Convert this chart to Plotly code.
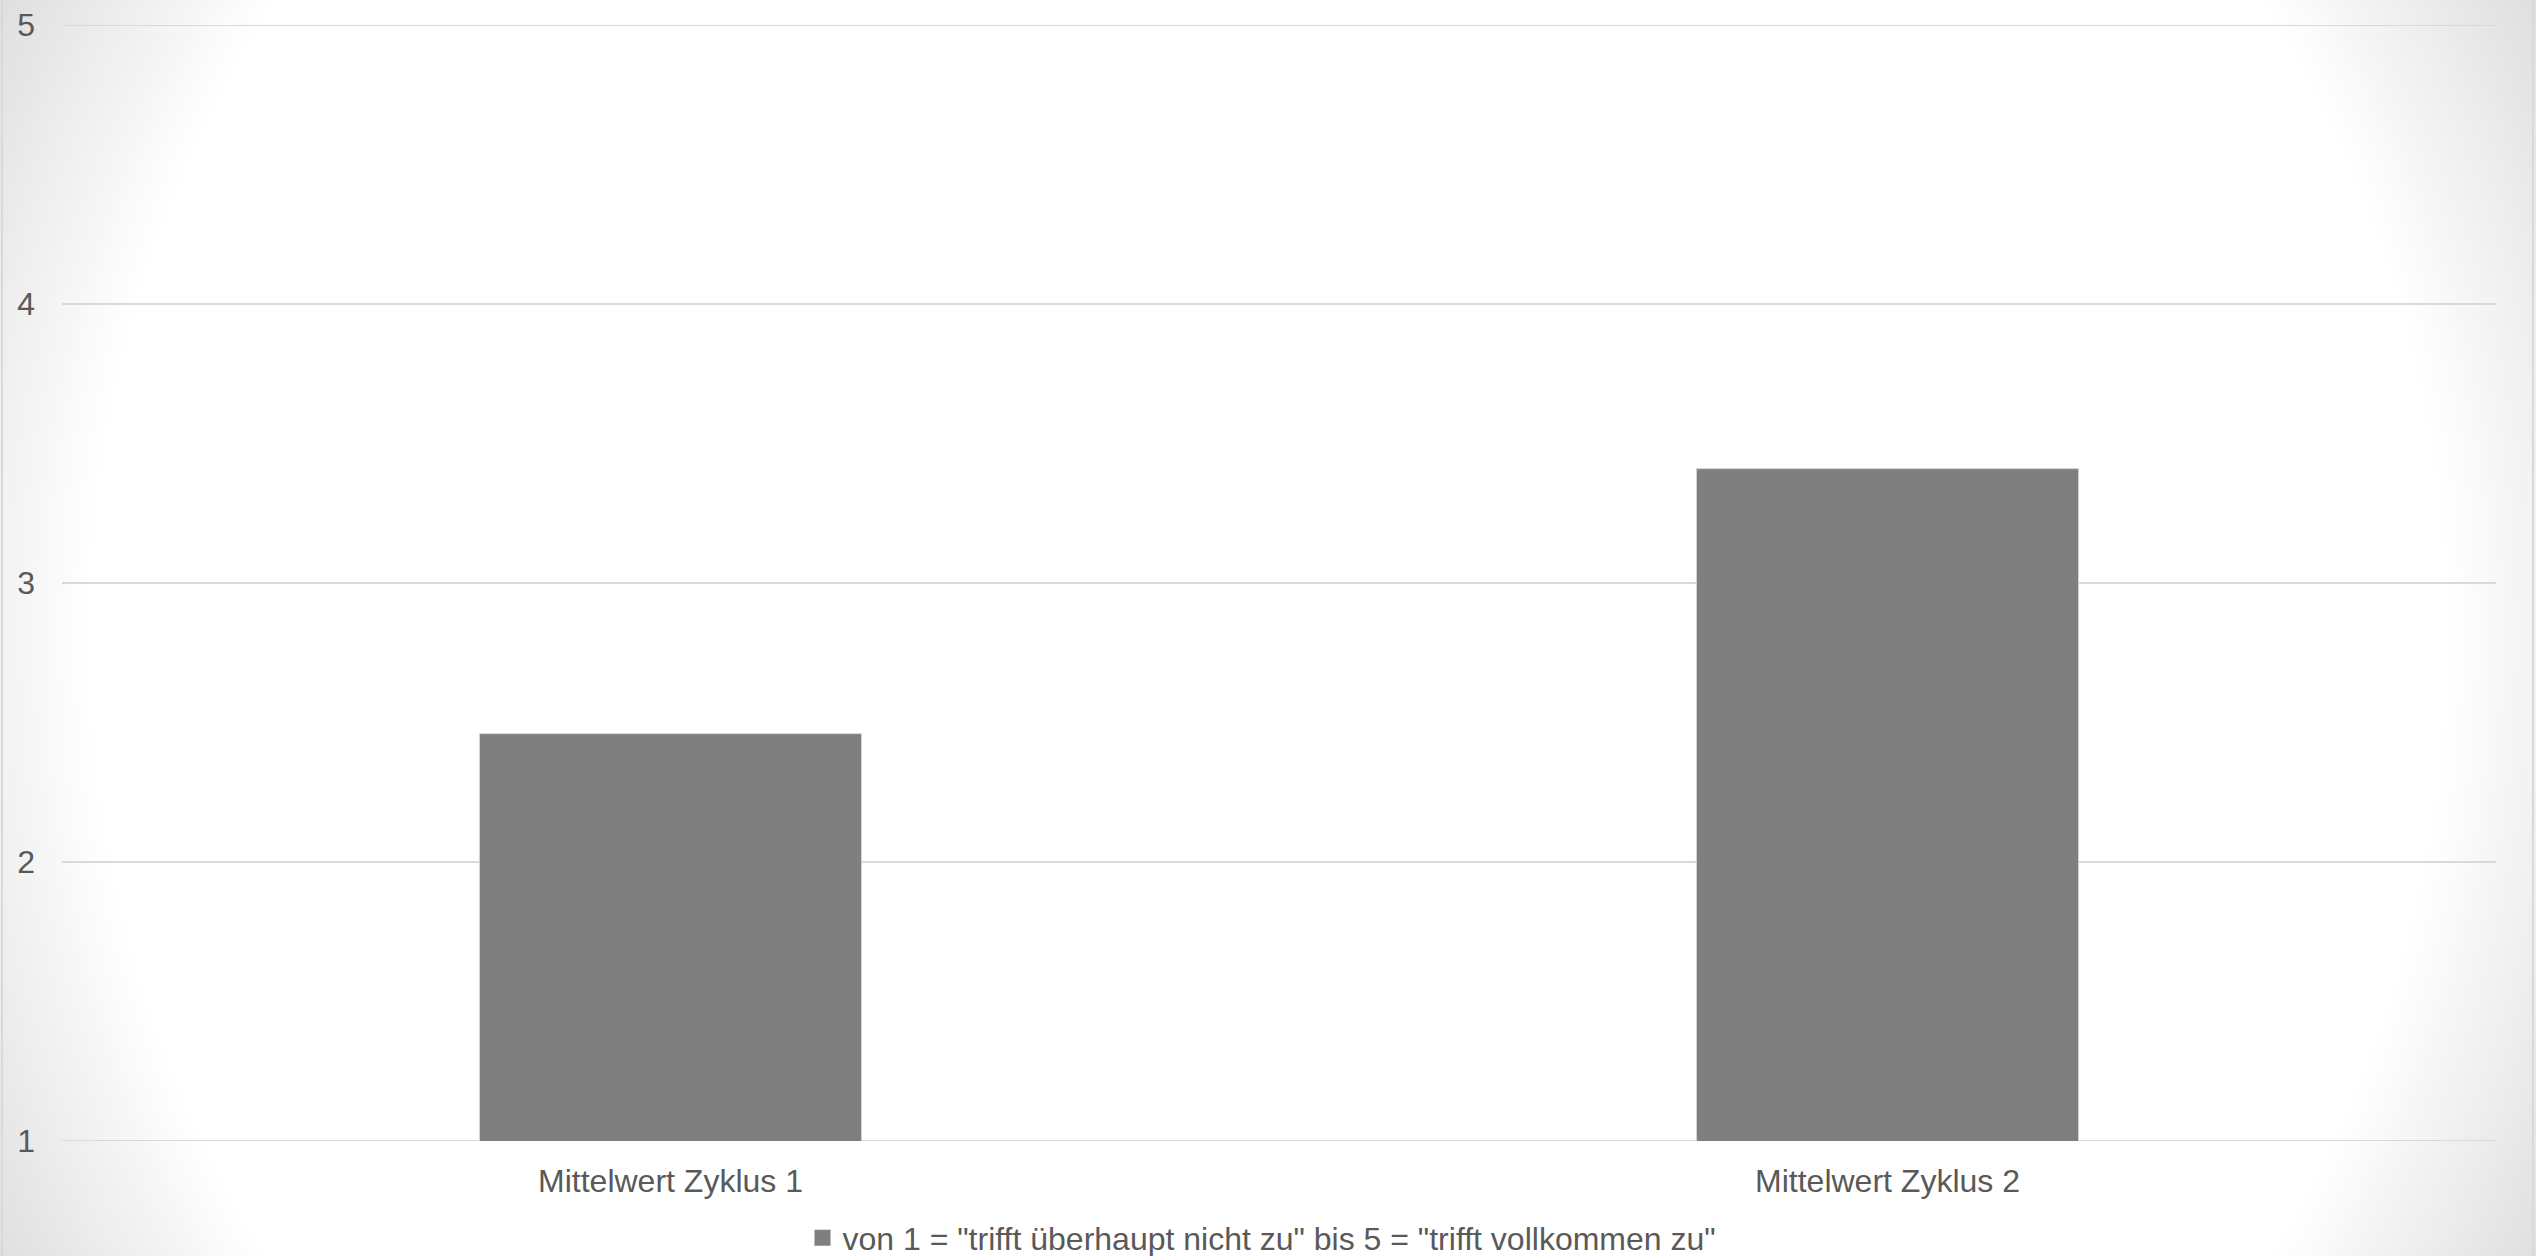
import plotly.graph_objects as go

# ---- data ----
categories = ["Mittelwert Zyklus 1", "Mittelwert Zyklus 2"]
values = [2.46, 3.41]
series_name = 'von 1 = "trifft überhaupt nicht zu" bis 5 = "trifft vollkommen zu"'
y_ticks = [1, 2, 3, 4, 5]
y_tick_labels = ["1", "2", "3", "4", "5"]
y_min, y_max = 1, 5

# ---- geometry (pixels) ----
W, H = 2536, 1256
L, R, T, B = 62, 40, 25, 115
PW = W - L - R
PH = H - T - B

def px_x(px):
    return (px - L) / PW

def px_y(py):
    return (H - B - py) / PH

FONT = "Liberation Sans, Arial, sans-serif"
TXT = "#595959"
FS = 32
GRID = "#d9d9d9"
BAR = "#7f7f7f"

fig = go.Figure()
fig.add_trace(go.Bar(
    x=categories, y=values, name=series_name,
    marker=dict(color=BAR, line=dict(color="#d4d4d4", width=1)),
    showlegend=False,
))
# legend entry with a larger square swatch
fig.add_trace(go.Scatter(
    x=[None], y=[None], mode="markers", name=series_name,
    marker=dict(symbol="square", size=16, color=BAR),
    showlegend=True, hoverinfo="skip",
))

# radial background gradient via concentric circles
shapes = []
cx, cy = 1268, 636
r_white, r_gray = 1180, 1425
g_end = 222
n = 48
for i in range(n + 1):
    r = r_gray - (r_gray - r_white) * i / n
    t = (r - r_white) / (r_gray - r_white)
    g = round(255 - (255 - g_end) * t)
    col = f"rgb({g},{g},{g})"
    shapes.append(dict(
        type="circle", xref="paper", yref="paper", layer="below",
        x0=px_x(cx - r), x1=px_x(cx + r), y0=px_y(cy + r), y1=px_y(cy - r),
        fillcolor=col, line=dict(width=0),
    ))
# gridlines at the range ends (plotly omits them)
for yv in (y_min, y_max):
    shapes.append(dict(
        type="line", xref="paper", yref="y", layer="below",
        x0=0, x1=1, y0=yv, y1=yv,
        line=dict(color=GRID, width=2),
    ))
# side borders
for bx in (2, W - 3):
    shapes.append(dict(
        type="line", xref="paper", yref="paper", layer="above",
        x0=px_x(bx), x1=px_x(bx), y0=px_y(0), y1=px_y(H),
        line=dict(color="#d9d9d9", width=2),
    ))

fig.update_layout(
    width=W, height=H,
    margin=dict(l=L, r=R, t=T, b=B, autoexpand=False),
    paper_bgcolor=f"rgb({g_end},{g_end},{g_end})",
    plot_bgcolor="rgba(0,0,0,0)",
    font=dict(family=FONT, size=FS, color=TXT),
    bargap=0.686,
    shapes=shapes,
    showlegend=True,
    legend=dict(
        orientation="h", x=px_x(1262), xanchor="center", y=px_y(1238), yanchor="middle",
        font=dict(family=FONT, size=FS, color=TXT), bgcolor="rgba(0,0,0,0)",
        itemwidth=30,
    ),
    xaxis=dict(
        showgrid=False, zeroline=False, showline=False, ticks="",
        tickfont=dict(family=FONT, size=FS, color=TXT),
        ticklabelstandoff=18,
    ),
    yaxis=dict(
        range=[y_min, y_max], tickvals=y_ticks, ticktext=y_tick_labels,
        showgrid=True, gridcolor=GRID, gridwidth=2,
        zeroline=False, showline=False, ticks="",
        tickfont=dict(family=FONT, size=FS, color=TXT),
        ticklabelstandoff=26,
    ),
)

fig.write_html(
    "out.html",
    config={"displayModeBar": False},
    post_script="document.body.style.margin='0';document.body.style.overflow='hidden';",
)
